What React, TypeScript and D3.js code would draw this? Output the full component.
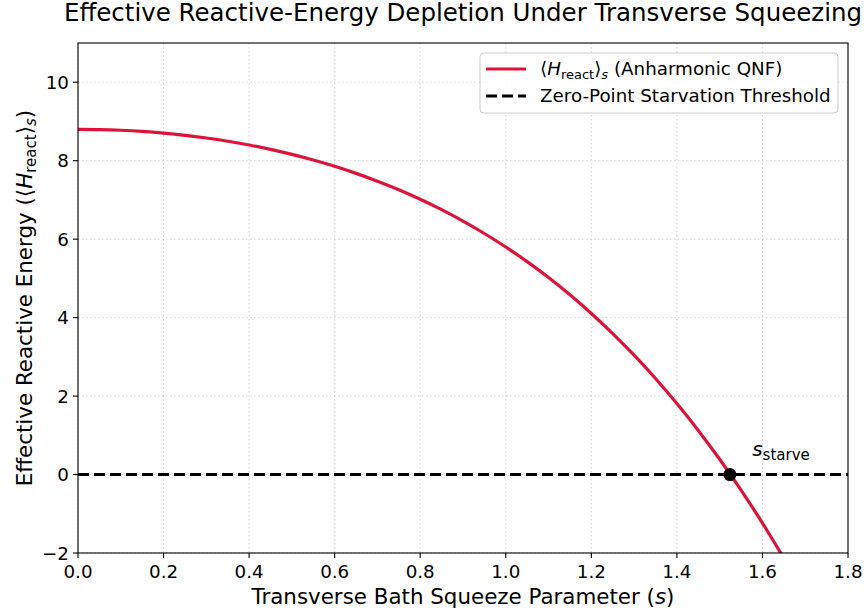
import React from "react";
import * as d3 from "d3";

// squeeze parameter s
const squeeze = [
  0, 0.05, 0.1, 0.15, 0.2, 0.25, 0.3, 0.35, 0.4, 0.45, 0.5, 0.55, 0.6, 0.65,
  0.7, 0.75, 0.8, 0.85, 0.9, 0.95, 1.0, 1.05, 1.1, 1.15, 1.2, 1.25, 1.3, 1.35,
  1.4, 1.45, 1.5, 1.55, 1.6, 1.65,
];
// effective reactive energy <H_react>_s
const energy = [
  8.8, 8.794, 8.776, 8.746, 8.703, 8.647, 8.578, 8.496, 8.399, 8.288, 8.161,
  8.017, 7.856, 7.677, 7.477, 7.258, 7.016, 6.751, 6.461, 6.144, 5.8, 5.426,
  5.02, 4.581, 4.106, 3.594, 3.042, 2.448, 1.809, 1.125, 0.391, -0.395, -1.237,
  -2.134,
];
const threshold = 0;
const sStarve = 1.524;

const xTicks = [0, 0.2, 0.4, 0.6, 0.8, 1.0, 1.2, 1.4, 1.6, 1.8];
const yTicks = [-2, 0, 2, 4, 6, 8, 10];

const W = 865;
const H = 611;
const margin = { top: 43, right: 17, bottom: 58, left: 78 };
const FONT = "'DejaVu Sans', sans-serif";
const RED = "#dc143c";
const TICK = 18.3;
const LABEL = 21.4;

export default function App() {
  const x = d3.scaleLinear().domain([0, 1.8]).range([margin.left, W - margin.right]);
  const y = d3.scaleLinear().domain([-2, 11]).range([H - margin.bottom, margin.top]);

  const pts = squeeze.map((s, i) => [s, energy[i]] as [number, number]);
  const line = d3
    .line<[number, number]>()
    .x((d) => x(d[0]))
    .y((d) => y(d[1]))
    .curve(d3.curveCatmullRom);

  const x0 = x.range()[0];
  const x1 = x.range()[1];
  const y0 = y.range()[1];
  const y1 = y.range()[0];
  const cx = (x0 + x1) / 2;
  const cy = (y0 + y1) / 2;

  const lg = { x: 480, y: 53, w: 358, h: 60 };

  return (
    <svg
      width={W}
      height={H}
      style={{ position: "absolute", left: 0, top: 0, background: "#fff", fontFamily: FONT }}
    >
      <defs>
        <clipPath id="plot">
          <rect x={x0} y={y0} width={x1 - x0} height={y1 - y0} />
        </clipPath>
      </defs>

      {/* grid */}
      {xTicks.map((t) => (
        <line key={"gx" + t} x1={x(t)} x2={x(t)} y1={y0} y2={y1}
          stroke="#b0b0b0" strokeOpacity={0.6} strokeWidth={0.9} strokeDasharray="1.5,2.5" />
      ))}
      {yTicks.map((t) => (
        <line key={"gy" + t} x1={x0} x2={x1} y1={y(t)} y2={y(t)}
          stroke="#b0b0b0" strokeOpacity={0.6} strokeWidth={0.9} strokeDasharray="1.5,2.5" />
      ))}

      <g clipPath="url(#plot)">
        <path d={line(pts) || ""} fill="none" stroke={RED} strokeWidth={3.2} />
        <line x1={x0} x2={x1} y1={y(threshold)} y2={y(threshold)}
          stroke="#000" strokeWidth={3} strokeDasharray="11,5" />
      </g>
      <circle cx={x(sStarve)} cy={y(threshold)} r={6.5} fill="#000" />
      <text x={x(1.576)} y={y(0.48)} fontSize={20} fill="#000">
        <tspan fontStyle="italic">s</tspan>
        <tspan fontSize={15} dy={4}>starve</tspan>
      </text>

      {/* frame */}
      <rect x={x0} y={y0} width={x1 - x0} height={y1 - y0} fill="none" stroke="#000" strokeWidth={1.1} />

      {/* x axis */}
      {xTicks.map((t) => (
        <g key={"xt" + t}>
          <line x1={x(t)} x2={x(t)} y1={y1} y2={y1 + 5} stroke="#000" strokeWidth={1.1} />
          <text x={x(t)} y={y1 + 25} fontSize={TICK} textAnchor="middle">{t.toFixed(1)}</text>
        </g>
      ))}
      {/* y axis */}
      {yTicks.map((t) => (
        <g key={"yt" + t}>
          <line x1={x0 - 5} x2={x0} y1={y(t)} y2={y(t)} stroke="#000" strokeWidth={1.1} />
          <text x={x0 - 9} y={y(t) + 6.5} fontSize={TICK} textAnchor="end">{t < 0 ? "\u2212" + Math.abs(t) : t}</text>
        </g>
      ))}

      <text x={cx} y={604} fontSize={LABEL} textAnchor="middle">
        Transverse Bath Squeeze Parameter (<tspan fontStyle="italic">s</tspan>)
      </text>
      <text transform={`translate(32,${cy}) rotate(-90)`} fontSize={LABEL} textAnchor="middle">
        Effective Reactive Energy (⟨<tspan fontStyle="italic">H</tspan>
        <tspan fontSize={15} dy={4}>react</tspan>
        <tspan dy={-4}>⟩</tspan>
        <tspan fontSize={15} dy={4} fontStyle="italic">s</tspan>
        <tspan dy={-4}>)</tspan>
      </text>

      <text x={cx} y={21} fontSize={24.5} textAnchor="middle">
        Effective Reactive-Energy Depletion Under Transverse Squeezing
      </text>

      {/* legend */}
      <rect x={lg.x} y={lg.y} width={lg.w} height={lg.h} rx={4} fill="#fff" fillOpacity={0.8} stroke="#cccccc" />
      <line x1={lg.x + 6} x2={lg.x + 46} y1={lg.y + 16} y2={lg.y + 16} stroke={RED} strokeWidth={3.2} />
      <text x={lg.x + 60} y={lg.y + 22} fontSize={TICK}>
        ⟨<tspan fontStyle="italic">H</tspan>
        <tspan fontSize={13} dy={4}>react</tspan>
        <tspan dy={-4}>⟩</tspan>
        <tspan fontSize={13} dy={4} fontStyle="italic">s</tspan>
        <tspan dy={-4}> (Anharmonic QNF)</tspan>
      </text>
      <line x1={lg.x + 6} x2={lg.x + 46} y1={lg.y + 43} y2={lg.y + 43} stroke="#000" strokeWidth={3} strokeDasharray="11,5" />
      <text x={lg.x + 60} y={lg.y + 49} fontSize={TICK}>Zero-Point Starvation Threshold</text>
    </svg>
  );
}
